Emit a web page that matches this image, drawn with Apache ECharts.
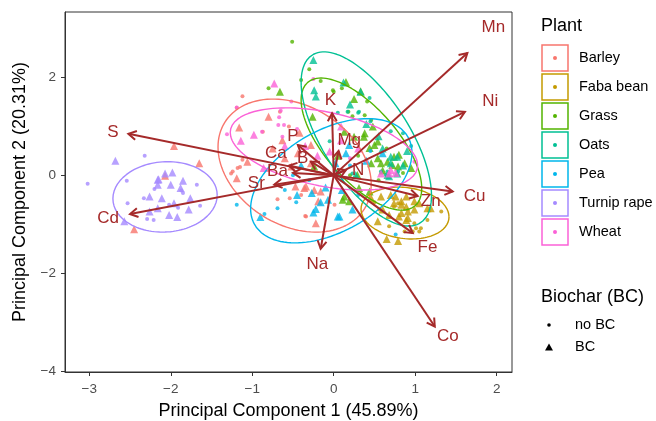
<!DOCTYPE html>
<html>
<head>
<meta charset="utf-8">
<script src="https://cdn.jsdelivr.net/npm/echarts@6/dist/echarts.min.js"></script>
<style>
  html, body { margin: 0; padding: 0; background: #fff; }
  #main { width: 656px; height: 421px; }
</style>
</head>
<body>
<div id="main"></div>
<script>
// plant groups, same order as the legend
const plants = ['Barley', 'Faba bean', 'Grass', 'Oats', 'Pea', 'Turnip rape', 'Wheat'];
const plantColors = ['#F8766D', '#C49A00', '#53B400', '#00C094', '#00B6EB', '#A58AFF', '#FB61D7'];

// PCA scores [PC1, PC2], no BC = dots, BC = triangles
const barleyNo = [[-1.12,1.62],[-1.19,1.38],[-0.87,0.89],[-1.12,0.32],[-1.18,0.15],[-1.26,0.04],[-0.69,-0.49],[-0.54,-0.47],[-0.66,1.30],[-1.24,0.08],[-1.15,0.17],[-0.81,0.11],[-0.40,-0.40],[-0.35,-0.83],[-0.34,-0.84],[0.01,-0.60],[-0.55,1.00]];
const barleyBC = [[-0.80,1.20],[-1.16,0.98],[-1.96,0.60],[-1.65,0.25],[-1.19,-0.06],[-2.07,-0.01],[-2.45,-1.10],[-0.42,0.87],[-0.63,0.72],[-1.06,0.28],[-0.44,0.45],[-0.28,0.25],[-0.28,0.62],[-0.52,0.18],[-0.47,-0.23],[-0.22,-0.98],[-0.36,-0.26],[-0.16,-0.33],[-0.34,-0.23],[-0.24,-0.30],[-0.19,-0.53],[-0.75,0.55],[-0.60,0.35]];
const fabaNo = [[0.79,-0.57],[0.87,-1.15],[0.97,-1.15],[1.01,-1.08],[1.05,-1.15],[1.15,-0.91],[1.32,-0.74],[0.68,-1.04],[0.99,-0.98],[0.56,-0.70],[0.74,-0.64],[1.07,-1.08],[0.50,-0.55]];
const fabaBC = [[0.54,-0.94],[0.65,-1.30],[0.79,-1.34],[0.68,-0.81],[0.80,-0.84],[0.89,-0.91],[0.91,-0.74],[0.99,-0.70],[1.19,-0.67],[1.05,-0.57],[0.99,-0.53],[0.74,-0.57],[0.83,-0.60],[0.89,-0.64],[0.58,-0.43],[0.70,-0.40],[0.76,-0.43],[0.46,-0.47],[0.83,-0.53],[0.89,-0.43],[1.15,-0.67],[0.83,-0.77],[0.91,-0.87],[0.60,-0.70]];
const grassNo = [[-0.80,1.78],[-0.51,2.73],[-0.30,2.17],[-0.40,1.95],[-0.16,1.93],[0.10,1.78],[0.00,1.71],[0.23,1.21],[0.18,1.30],[0.41,1.51],[0.46,1.13],[0.38,1.23],[-0.01,1.74],[0.30,0.40],[0.65,0.55],[0.85,0.05],[0.20,0.00],[0.55,-0.10]];
const grassBC = [[-0.66,1.71],[0.15,1.91],[0.33,1.72],[0.25,1.56],[-0.26,1.20],[0.48,1.00],[0.38,0.86],[0.13,0.89],[0.25,0.79],[0.37,0.79],[0.54,0.69],[0.44,0.56],[0.50,0.62],[0.58,0.25],[0.66,0.28],[0.74,0.38],[0.80,0.42],[0.87,0.25],[0.72,0.21],[0.54,0.35],[0.29,0.01],[0.13,-0.43],[0.19,-0.53],[0.11,-0.50],[0.31,-0.26],[0.44,-0.33],[-0.24,0.18],[0.79,0.18],[0.46,0.25],[0.60,0.10],[0.95,0.15],[0.05,0.40]];
const oatsNo = [[0.44,1.58],[0.31,1.30],[0.17,1.30],[0.05,1.28],[0.30,1.28],[0.85,0.86],[0.23,0.04],[0.58,0.08],[0.64,0.01],[0.66,0.08],[0.79,0.08],[0.95,0.60],[0.45,1.10],[-0.05,0.70],[0.70,0.90]];
const oatsBC = [[-0.25,2.36],[-0.24,1.74],[-0.22,1.61],[0.12,1.90],[0.33,1.71],[0.70,0.38],[0.78,0.38],[0.70,0.25],[0.78,0.04],[0.68,-0.02],[0.27,0.01],[0.66,0.01],[0.90,0.50],[0.55,0.80],[0.40,1.05],[0.85,0.20],[0.20,1.45],[0.60,0.55]];
const peaNo = [[-1.19,-0.60],[-0.85,-0.79],[-0.69,-0.67],[-0.46,-0.55],[0.76,-1.21],[-0.30,-0.10],[0.20,0.20],[0.45,0.50],[-0.50,0.00],[0.10,-0.10],[0.30,-0.40],[-0.60,-0.30]];
const peaBC = [[-0.90,-0.85],[-0.45,-0.40],[-0.25,-0.76],[-0.22,-0.69],[-0.16,-0.55],[0.05,-0.84],[-0.27,-0.36],[-0.07,-0.50],[0.07,-0.84],[0.23,-0.70],[0.15,0.45],[0.19,0.62],[-0.10,-0.25],[0.10,-0.30],[-0.40,0.20],[0.40,0.30],[0.60,0.45],[0.02,0.25]];
const turnipNo = [[-2.32,0.40],[-3.02,-0.17],[-2.54,-0.11],[-1.68,-0.19],[-2.20,-0.28],[-1.87,-0.31],[-1.85,-0.36],[-2.33,-0.47],[-2.53,-0.57],[-1.64,-0.62],[-1.91,-0.66],[-2.29,-0.89],[-2.21,-0.91],[-2.02,-0.60]];
const turnipBC = [[-2.68,0.30],[-1.98,0.06],[-2.15,-0.08],[-1.85,-0.11],[-2.16,-0.19],[-2.00,-0.19],[-1.88,-0.26],[-2.26,-0.43],[-2.11,-0.47],[-1.76,-0.47],[-1.96,-0.57],[-2.16,-0.67],[-1.78,-0.70],[-2.26,-0.74],[-2.02,-0.81],[-1.92,-0.85],[-2.57,-0.94],[-2.07,0.04],[-2.16,-0.09]];
const wheatNo = [[-0.67,1.19],[-0.68,1.03],[-0.61,1.03],[-0.63,0.79],[-1.31,0.84],[-1.19,1.39],[-0.88,0.89],[-0.52,1.51],[-0.65,1.32],[-0.25,1.97],[0.99,0.28],[0.40,0.30],[-0.45,0.95],[0.20,0.35]];
const wheatBC = [[-0.73,1.88],[-0.98,0.83],[-1.14,0.71],[-0.86,0.15],[-0.05,0.49],[0.09,1.00],[0.09,0.72],[0.58,0.04],[0.68,0.04],[0.70,0.11],[0.76,0.05],[-0.35,0.60],[-0.20,0.40],[0.30,0.55],[-0.60,0.60]];

// normal ellipses per plant: centre, half extents and tilt (correlation)
const ellCx = [-0.48, 0.875, 0.34, 0.40, -0.03, -2.07, -0.12];
const ellCy = [0.20, -0.77, 0.64, 0.745, -0.11, -0.44, 0.54];
const ellRx = [0.94, 0.54, 0.74, 0.80, 0.99, 0.64, 1.15];
const ellRy = [1.36, 0.53, 1.35, 1.78, 1.27, 0.72, 0.84];
const ellRho = [-0.28, -0.15, -0.67, -0.65, 0.45, 0.05, -0.40];

// variable loadings (arrow tips) and label positions
const varNames = ['Mn', 'Ni', 'S', 'Cd', 'Cu', 'Zn', 'Fe', 'Co', 'Na', 'K', 'Mg', 'N', 'P', 'Ca', 'B', 'Ba', 'Sr'];
const loadX = [1.64, 1.61, -2.52, -2.50, 1.46, 1.03, 0.97, 1.24, -0.16, -0.02, 0.06, 0.15, -0.44, -0.55, -0.28, -0.50, -0.73];
const loadY = [2.50, 1.30, 0.85, -0.79, -0.33, -0.42, -1.18, -3.09, -1.50, 1.27, 0.50, 0.11, 0.62, 0.20, 0.28, 0.05, -0.19];
const labX = [1.96, 1.92, -2.71, -2.77, 1.73, 1.19, 1.15, 1.40, -0.20, -0.04, 0.19, 0.30, -0.50, -0.71, -0.38, -0.69, -0.95];
const labY = [3.03, 1.52, 0.89, -0.87, -0.42, -0.53, -1.47, -3.29, -1.81, 1.54, 0.72, 0.11, 0.79, 0.45, 0.35, 0.08, -0.16];

const noBC = [barleyNo, fabaNo, grassNo, oatsNo, peaNo, turnipNo, wheatNo];
const withBC = [barleyBC, fabaBC, grassBC, oatsBC, peaBC, turnipBC, wheatBC];

const arrowColor = '#A52A2A';
const font = 'Liberation Sans, Arial, sans-serif';

function ellipsePath(i) {
  let pts = [];
  let s = Math.sqrt(1 - ellRho[i] * ellRho[i]);
  for (let k = 0; k <= 120; k++) {
    let t = k / 120 * 2 * Math.PI;
    pts.push([ellCx[i] + ellRx[i] * Math.cos(t),
              ellCy[i] + ellRy[i] * (ellRho[i] * Math.cos(t) + s * Math.sin(t))]);
  }
  return pts;
}

function minusFmt(v) {
  return v < 0 ? '\u2212' + Math.abs(v) : String(v);
}

let series = [];
for (let i = 0; i < plants.length; i++) {
  series.push({
    name: plants[i] + ' no BC', type: 'scatter', data: noBC[i],
    symbol: 'circle', symbolSize: 4, itemStyle: { color: plantColors[i] }, z: 2
  });
  series.push({
    name: plants[i] + ' BC', type: 'scatter', data: withBC[i],
    symbol: 'triangle', symbolSize: 8, itemStyle: { color: plantColors[i] }, z: 2
  });
}
for (let i = 0; i < plants.length; i++) {
  series.push({
    name: plants[i] + ' ellipse', type: 'line', data: ellipsePath(i),
    showSymbol: false, smooth: false, z: 3,
    lineStyle: { color: plantColors[i], width: 1.4 }
  });
}
series.push({
  type: 'custom', z: 4,
  data: varNames.map((n, i) => [loadX[i], loadY[i], labX[i], labY[i]]),
  encode: { x: 0, y: 1 },
  renderItem: function (params, api) {
    const o = api.coord([0, 0]);
    const p = api.coord([api.value(0), api.value(1)]);
    const l = api.coord([api.value(2), api.value(3)]);
    const ang = Math.atan2(p[1] - o[1], p[0] - o[0]);
    const h = 9, a = Math.PI / 6;
    return {
      type: 'group',
      children: [
        { type: 'line', shape: { x1: o[0], y1: o[1], x2: p[0], y2: p[1] },
          style: { stroke: arrowColor, lineWidth: 2 } },
        { type: 'polyline', shape: { points: [
            [p[0] - h * Math.cos(ang - a), p[1] - h * Math.sin(ang - a)], p,
            [p[0] - h * Math.cos(ang + a), p[1] - h * Math.sin(ang + a)]] },
          style: { stroke: arrowColor, lineWidth: 2, fill: null } },
        { type: 'text', x: l[0], y: l[1],
          style: { text: varNames[params.dataIndex], fill: arrowColor, fontSize: 17,
                   fontFamily: font, align: 'center', verticalAlign: 'middle' } }
      ]
    };
  }
});

// legend drawn like the ggplot guide
let graphic = [
  { type: 'text', left: 541, top: 17, style: { text: 'Plant', fontSize: 18, fontFamily: font, fill: '#000' } }
];
for (let i = 0; i < plants.length; i++) {
  let y0 = 45 + i * 29;
  graphic.push({ type: 'rect', shape: { x: 542, y: y0, width: 26, height: 26 },
    style: { fill: '#fff', stroke: plantColors[i], lineWidth: 1.5 } });
  graphic.push({ type: 'circle', shape: { cx: 555, cy: y0 + 13, r: 2 }, style: { fill: plantColors[i] } });
  graphic.push({ type: 'text', x: 579, y: y0 + 13,
    style: { text: plants[i], fontSize: 14.5, fontFamily: font, fill: '#000', verticalAlign: 'middle' } });
}
graphic.push({ type: 'text', x: 541, y: 297,
  style: { text: 'Biochar (BC)', fontSize: 18, fontFamily: font, fill: '#000', verticalAlign: 'middle' } });
graphic.push({ type: 'circle', shape: { cx: 549, cy: 325, r: 1.8 }, style: { fill: '#000' } });
graphic.push({ type: 'text', x: 575, y: 325,
  style: { text: 'no BC', fontSize: 14.5, fontFamily: font, fill: '#000', verticalAlign: 'middle' } });
graphic.push({ type: 'polygon', shape: { points: [[549, 343.5], [553, 350.5], [545, 350.5]] }, style: { fill: '#000' } });
graphic.push({ type: 'text', x: 575, y: 347,
  style: { text: 'BC', fontSize: 14.5, fontFamily: font, fill: '#000', verticalAlign: 'middle' } });

const option = {
  animation: false,
  backgroundColor: '#fff',
  grid: { left: 65, right: 144, top: 12, bottom: 49, outerBoundsMode: 'none', show: true, borderColor: '#333', borderWidth: 1, backgroundColor: 'transparent' },
  xAxis: {
    type: 'value', min: -3.298, max: 2.188,
    name: 'Principal Component 1 (45.89%)', nameLocation: 'middle', nameGap: 30,
    nameTextStyle: { fontSize: 18, fontFamily: font, color: '#000' },
    axisLine: { show: true, onZero: false, lineStyle: { color: '#333' } },
    axisTick: { show: true, length: 4, lineStyle: { color: '#333' }, customValues: [-3, -2, -1, 0, 1, 2] },
    axisLabel: { fontSize: 13.5, fontFamily: font, color: '#4d4d4d', margin: 10, customValues: [-3, -2, -1, 0, 1, 2], formatter: minusFmt },
    splitLine: { show: false }
  },
  yAxis: {
    type: 'value', min: -4.02, max: 3.34,
    name: 'Principal Component 2 (20.31%)', nameLocation: 'middle', nameGap: 36,
    nameTextStyle: { fontSize: 18, fontFamily: font, color: '#000' },
    axisLine: { show: true, onZero: false, lineStyle: { color: '#333' } },
    axisTick: { show: true, length: 4, lineStyle: { color: '#333' }, customValues: [-4, -2, 0, 2] },
    axisLabel: { fontSize: 13.5, fontFamily: font, color: '#4d4d4d', margin: 9, customValues: [-4, -2, 0, 2], formatter: minusFmt },
    splitLine: { show: false }
  },
  graphic: graphic,
  series: series
};

const myChart = echarts.init(document.getElementById('main'));
option && myChart.setOption(option);
</script>
</body>
</html>
